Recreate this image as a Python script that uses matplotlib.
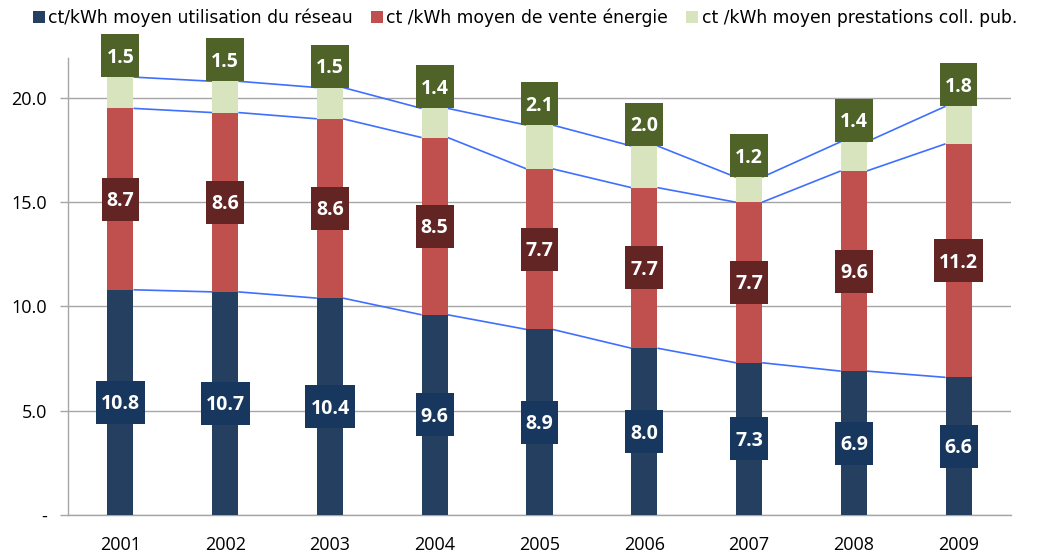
import matplotlib
matplotlib.use('Agg')
import matplotlib.pyplot as plt
import numpy as np
from matplotlib.patches import Rectangle, Patch
from matplotlib.transforms import IdentityTransform

# ---- data ----
years = ['2001', '2002', '2003', '2004', '2005', '2006', '2007', '2008', '2009']
reseau = [10.8, 10.7, 10.4, 9.6, 8.9, 8.0, 7.3, 6.9, 6.6]
energie = [8.7, 8.6, 8.6, 8.5, 7.7, 7.7, 7.7, 9.6, 11.2]
prestations = [1.5, 1.5, 1.5, 1.4, 2.1, 2.0, 1.2, 1.4, 1.8]
series_names = ['ct/kWh moyen utilisation du réseau',
                'ct /kWh moyen de vente énergie',
                'ct /kWh moyen prestations coll. pub.']
ytick_vals = [0, 5, 10, 15, 20]
ytick_labels = ['-', '5.0', '10.0', '15.0', '20.0']

# ---- style ----
C_BLUE, C_RED, C_GREEN = '#243f60', '#c0504d', '#d7e4bd'
L_BLUE, L_RED, L_GREEN = '#17375e', '#632523', '#4f6228'
LINE_C = '#3f6fff'
GRID_C = '#a6a6a6'
W, H, DPI = 1041, 555, 100

fig = plt.figure(figsize=(W / DPI, H / DPI), dpi=DPI)
ax = fig.add_axes([68 / W, 1 - 515 / H, (1011 - 68) / W, (515 - 57.7) / H])

x = np.arange(len(years))
r = np.array(reseau)
e = np.array(energie)
p = np.array(prestations)
bw = 0.25

ax.bar(x, r, bw, color=C_BLUE, zorder=3)
ax.bar(x, e, bw, bottom=r, color=C_RED, zorder=3)
ax.bar(x, p, bw, bottom=r + e, color=C_GREEN, zorder=3)

# series lines
for tops in (r, r + e, r + e + p):
    for i in range(len(x) - 1):
        ax.plot([x[i] + bw / 2, x[i + 1] - bw / 2], [tops[i], tops[i + 1]],
                color=LINE_C, lw=1.2, zorder=2.5, solid_capstyle='butt')

ax.set_xlim(-0.5, len(x) - 0.5)
ax.set_ylim(0, 21.93)
ax.set_yticks(ytick_vals)
ax.set_yticklabels(ytick_labels)
ax.set_xticks(x)
ax.set_xticklabels(years)
for sp in ('top', 'right'):
    ax.spines[sp].set_visible(False)
for sp in ('left', 'bottom'):
    ax.spines[sp].set_color(GRID_C)
    ax.spines[sp].set_linewidth(1.0)
ax.yaxis.grid(True, color=GRID_C, lw=1.0, zorder=0)
ax.set_axisbelow(True)
ax.tick_params(axis='y', length=6, width=1, color=GRID_C, pad=9,
               labelsize=13, labelcolor='#000000')
ax.tick_params(axis='x', length=0, pad=15, labelsize=13, labelcolor='#000000')
for lab in ax.get_xticklabels() + ax.get_yticklabels():
    lab.set_family('Open Sans')

# legend
handles = [Patch(facecolor=c, edgecolor='none') for c in (C_BLUE, C_RED, C_GREEN)]
fig.legend(handles, series_names, loc='center', bbox_to_anchor=(525 / W, 1 - 18 / H),
           ncol=3, frameon=False, handlelength=0.7, handleheight=0.7,
           handletextpad=0.2, columnspacing=1.05,
           prop={'family': 'DejaVu Sans', 'size': 12.3})

# data labels
CAP = 14.0  # px cap height of digits
labels = []
def add_label(xc, yc, txt, color, dy_px=0.0):
    t = ax.annotate(txt, xy=(xc, yc), xycoords='data',
                    xytext=(0, (dy_px - CAP / 2) * 72 / DPI), textcoords='offset points',
                    ha='center', va='baseline', color='white', fontsize=14,
                    fontweight='bold', family='Open Sans', zorder=6,
                    annotation_clip=False)
    labels.append((t, xc, yc, dy_px, color))

for i in range(len(x)):
    add_label(x[i], r[i] / 2, f'{r[i]:.1f}', L_BLUE)
    add_label(x[i], r[i] + e[i] / 2, f'{e[i]:.1f}', L_RED)
    add_label(x[i], r[i] + e[i] + p[i], f'{p[i]:.1f}', L_GREEN, dy_px=21.5)

fig.canvas.draw()
renderer = fig.canvas.get_renderer()
for t, xc, yc, dy, color in labels:
    bb = t.get_window_extent(renderer)
    px, py = ax.transData.transform((xc, yc))
    py += dy
    wbox = bb.width + 10
    hbox = 43
    rect = Rectangle((px - wbox / 2, py - hbox / 2), wbox, hbox,
                     transform=IdentityTransform(), facecolor=color,
                     edgecolor='none', zorder=5, clip_on=False)
    ax.add_artist(rect)

fig.savefig('out.png', dpi=DPI)
